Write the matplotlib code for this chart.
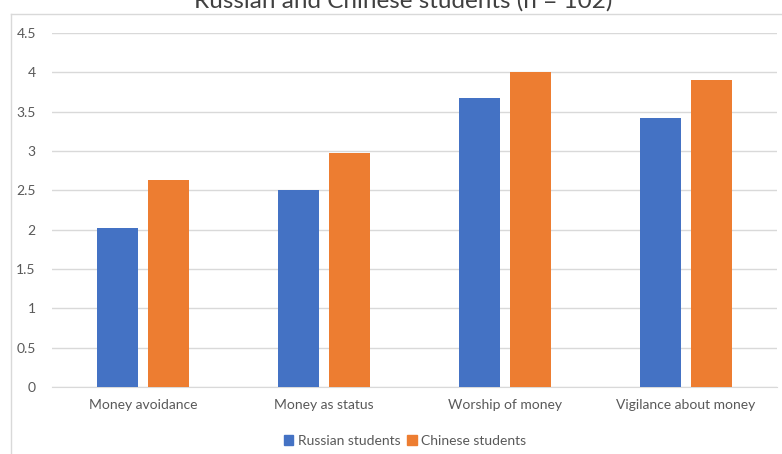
import numpy as np
import matplotlib.pyplot as plt
from matplotlib.lines import Line2D

categories = ["Money avoidance", "Money as status", "Worship of money", "Vigilance about money"]
russian = [2.02, 2.50, 3.68, 3.42]
chinese = [2.63, 2.97, 4.00, 3.90]
series_names = ["Russian students", "Chinese students"]
colors = ["#4472C4", "#ED7D31"]

plt.rcParams['font.family'] = ['Lato', 'DejaVu Sans']

fig = plt.figure(figsize=(7.82, 4.54), dpi=100)
ax = fig.add_axes([0.0671, 0.1476, 0.9259, 0.7797])

x = np.arange(len(categories))
w = 0.227
off = 0.141
ax.bar(x - off, russian, w, color=colors[0], label=series_names[0], zorder=3)
ax.bar(x + off, chinese, w, color=colors[1], label=series_names[1], zorder=3)

ax.set_xlim(-0.5, len(categories) - 0.5)
ax.set_ylim(0, 4.5)
ax.set_yticks(np.arange(0, 4.51, 0.5))
ax.set_yticklabels(["0", "0.5", "1", "1.5", "2", "2.5", "3", "3.5", "4", "4.5"])
ax.set_xticks(x)
ax.set_xticklabels(categories)
ax.tick_params(axis='both', length=0, colors="#595959", labelsize=10)
ax.tick_params(axis='x', pad=9)
ax.tick_params(axis='y', pad=12)
ax.grid(axis='y', color="#D9D9D9", linewidth=1, zorder=0)
for s in ["top", "right", "left"]:
    ax.spines[s].set_visible(False)
ax.spines["bottom"].set_color("#D9D9D9")

# chart area border (only left and top visible in the crop)
fig.add_artist(Line2D([11 / 782, 11 / 782], [0, 1 - 14 / 454], color="#D9D9D9", lw=1))
fig.add_artist(Line2D([11 / 782, 1], [1 - 14 / 454, 1 - 14 / 454], color="#D9D9D9", lw=1))

# title is cropped at the top edge, as in the source image
fig.text(403 / 782, 1 - 8 / 454, "Russian and Chinese students (n = 102)",
         ha='center', va='baseline', fontsize=17.5, color="#404040")

handles = [plt.Rectangle((0, 0), 1, 1, color=c) for c in colors]
fig.legend(handles, series_names, loc='center', bbox_to_anchor=(405 / 782, 1 - 441 / 454),
           ncol=2, frameon=False, fontsize=10, handlelength=0.7, handleheight=0.7,
           handletextpad=0.3, columnspacing=0.5, labelcolor="#595959")

fig.savefig("out.png", dpi=100)
